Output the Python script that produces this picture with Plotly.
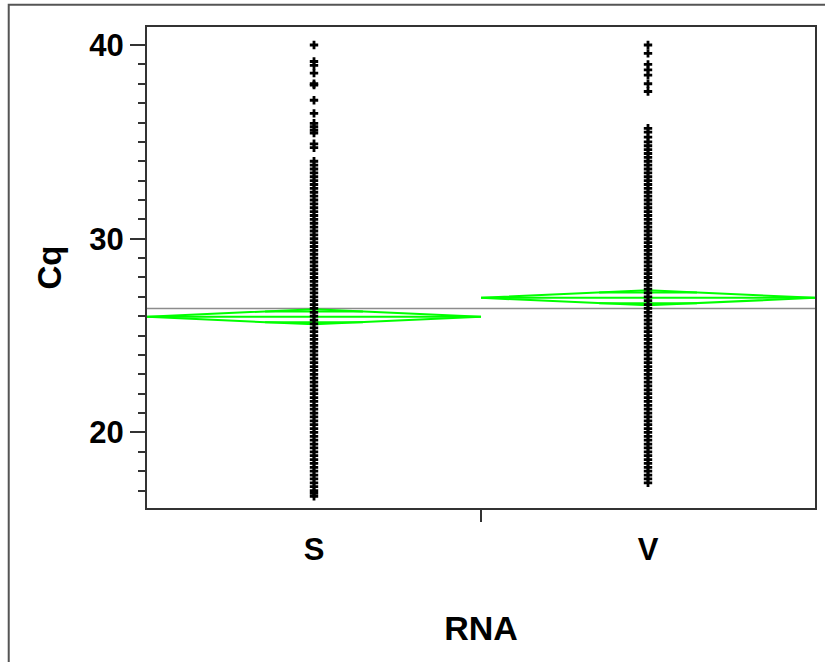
import math
import plotly.graph_objects as go

# Groups on the x axis
categories = ["S", "V"]

# Cq observations for each RNA group (column of points)
cq_S = [40.0, 39.15, 38.95, 38.55, 38.0, 37.93, 37.15, 36.47, 35.96, 35.78, 35.6, 35.45,
        34.9, 34.7,
        34.0, 33.8, 33.6, 33.4, 33.2, 33.0, 32.8, 32.6, 32.4, 32.2, 32.0, 31.8, 31.6, 31.4,
        31.2, 31.0, 30.8, 30.6, 30.4, 30.2, 30.0, 29.8, 29.6, 29.4, 29.2, 29.0, 28.8, 28.6,
        28.4, 28.2, 28.0, 27.8, 27.6, 27.4, 27.2, 27.0, 26.8, 26.6, 26.4, 26.2, 26.0, 25.8,
        25.6, 25.4, 25.2, 25.0, 24.8, 24.6, 24.4, 24.2, 24.0, 23.8, 23.6, 23.4, 23.2, 23.0,
        22.8, 22.6, 22.4, 22.2, 22.0, 21.8, 21.6, 21.4, 21.2, 21.0, 20.8, 20.6, 20.4, 20.2,
        20.0, 19.8, 19.6, 19.4, 19.2, 19.0, 18.8, 18.6, 18.4, 18.2, 18.0, 17.8, 17.6, 17.4,
        17.2, 17.0, 16.85, 16.7]
cq_V = [40.0, 39.57, 39.0, 38.72, 38.45, 38.0, 37.6,
        35.7, 35.5, 35.25, 35.0, 34.8, 34.6, 34.4, 34.2, 34.0, 33.8, 33.6, 33.4, 33.2, 33.0,
        32.8, 32.6, 32.4, 32.2, 32.0, 31.8, 31.6, 31.4, 31.2, 31.0, 30.8, 30.6, 30.4, 30.2,
        30.0, 29.8, 29.6, 29.4, 29.2, 29.0, 28.8, 28.6, 28.4, 28.2, 28.0, 27.8, 27.6, 27.4,
        27.2, 27.0, 26.8, 26.6, 26.4, 26.2, 26.0, 25.8, 25.6, 25.4, 25.2, 25.0, 24.8, 24.6,
        24.4, 24.2, 24.0, 23.8, 23.6, 23.4, 23.2, 23.0, 22.8, 22.6, 22.4, 22.2, 22.0, 21.8,
        21.6, 21.4, 21.2, 21.0, 20.8, 20.6, 20.4, 20.2, 20.0, 19.8, 19.6, 19.4, 19.2, 19.0,
        18.8, 18.6, 18.4, 18.2, 18.0, 17.8, 17.6, 17.4]

# Group means, 95% CI half-widths and the grand mean
group_means = [25.97, 26.95]
ci_half = [0.39, 0.39]
grand_mean = 26.40

# y-axis tick labels
y_ticks = [20, 30, 40]

GREEN = "#00ff00"
AXIS = "#333333"
FONT = "Liberation Sans"

fig = go.Figure()

# Grand mean reference line across the whole plot
fig.add_trace(go.Scatter(
    x=[-0.5, len(categories) - 0.5], y=[grand_mean, grand_mean],
    mode="lines", line=dict(color="#8c8c8c", width=1.5),
    hoverinfo="skip", showlegend=False))

# Means diamonds with mean line and overlap marks
half_w = 0.5
for i, (m, h) in enumerate(zip(group_means, ci_half)):
    fig.add_trace(go.Scatter(
        x=[i - half_w, i, i + half_w, i, i - half_w],
        y=[m, m + h, m, m - h, m],
        mode="lines", line=dict(color=GREEN, width=2),
        hoverinfo="skip", showlegend=False))
    fig.add_trace(go.Scatter(
        x=[i - half_w, i + half_w], y=[m, m],
        mode="lines", line=dict(color=GREEN, width=2),
        hoverinfo="skip", showlegend=False))
    ov = h / math.sqrt(2)
    span = half_w * (1 - 1 / math.sqrt(2))
    for yy in (m + ov, m - ov):
        fig.add_trace(go.Scatter(
            x=[i - span, i + span], y=[yy, yy],
            mode="lines", line=dict(color=GREEN, width=2),
            hoverinfo="skip", showlegend=False))

# Individual observations
for i, vals in enumerate([cq_S, cq_V]):
    fig.add_trace(go.Scatter(
        x=[i] * len(vals), y=vals, mode="markers",
        marker=dict(symbol="cross", size=7, color="black", line=dict(width=0)),
        showlegend=False))

fig.update_layout(
    width=825, height=662,
    margin=dict(l=147, r=8, t=27, b=154),
    paper_bgcolor="white", plot_bgcolor="white",
    font=dict(family=FONT, color="black"),
    showlegend=False,
    shapes=[dict(type="rect", xref="paper", yref="paper",
                 x0=-0.207, x1=1.2, y0=-0.5, y1=1.046,
                 line=dict(color="#555555", width=2), layer="below")],
)

fig.update_xaxes(
    range=[-0.5, len(categories) - 0.5],
    tickmode="array", tickvals=list(range(len(categories))), ticktext=categories,
    ticks="", ticklabelstandoff=13,
    tickfont=dict(family=FONT, size=31, color="black", weight="bold"),
    minor=dict(tickmode="array", tickvals=[0.5], ticks="outside",
               ticklen=12, tickwidth=2, tickcolor=AXIS),
    showline=True, linecolor=AXIS, linewidth=2, mirror=True,
    showgrid=False, zeroline=False,
    title=dict(text="RNA", standoff=50,
               font=dict(family=FONT, size=34, color="black", weight="bold")),
)

fig.update_yaxes(
    range=[16.1, 40.93],
    tickmode="array", tickvals=y_ticks, ticktext=[str(t) for t in y_ticks],
    ticks="outside", ticklen=15, tickwidth=2, tickcolor=AXIS,
    tickfont=dict(family=FONT, size=31, color="black", weight="bold"),
    minor=dict(dtick=1, tick0=0, ticks="outside", ticklen=7, tickwidth=2,
               tickcolor=AXIS, showgrid=False),
    showline=True, linecolor=AXIS, linewidth=2, mirror=True,
    showgrid=False, zeroline=False,
    title=dict(text="Cq", standoff=18,
               font=dict(family=FONT, size=33, color="black", weight="bold")),
)

fig.write_html("out.html")
